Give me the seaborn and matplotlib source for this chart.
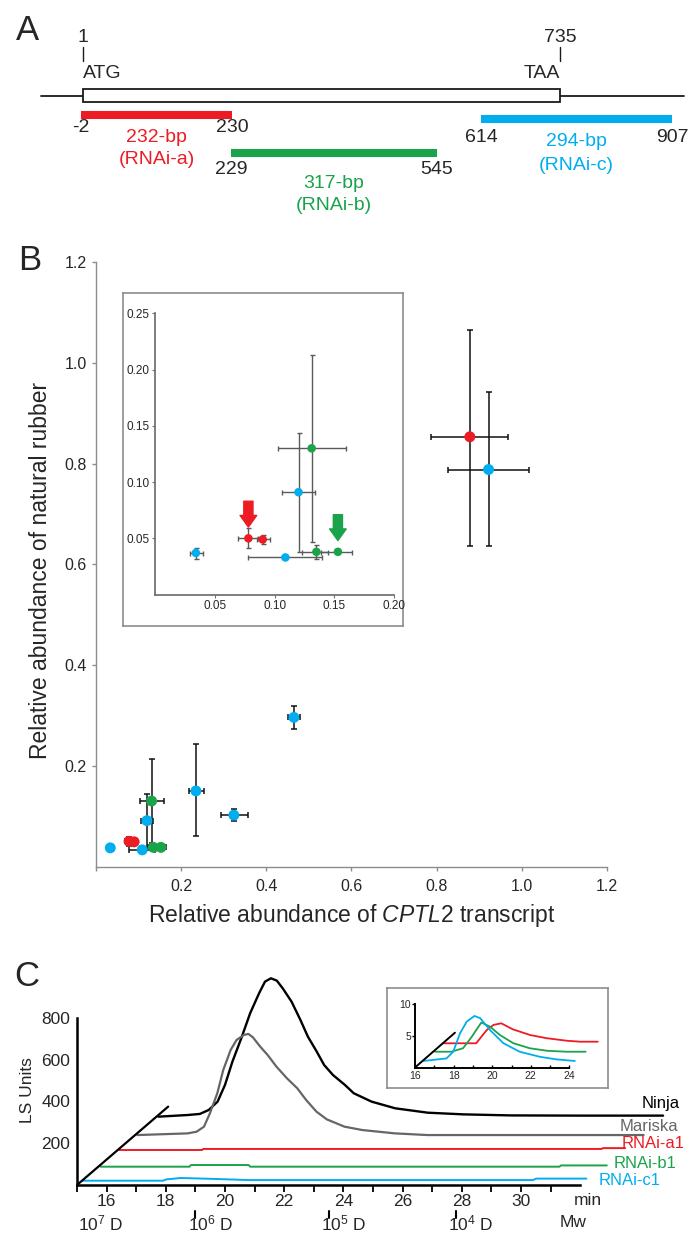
import numpy as np
import pandas as pd
import seaborn as sns
import matplotlib.pyplot as plt
from matplotlib.patches import Rectangle
from matplotlib.ticker import FormatStrFormatter

sns.set_theme(style='white')
plt.rcParams['font.family'] = ['Liberation Sans', 'DejaVu Sans']
plt.rcParams['mathtext.fontset'] = 'custom'
plt.rcParams['mathtext.rm'] = 'Liberation Sans'
plt.rcParams['mathtext.it'] = 'Liberation Sans:italic'

# ---------------- data ----------------
# A: CPTL2 cDNA (coding region 1-735) and the three RNAi fragments, in bp
cds = [1, 735]
flank = [-64, 925]
frag_start = [-2, 229, 614]
frag_end = [230, 545, 907]
frag_size = ['232-bp', '317-bp', '294-bp']
frag_name = ['(RNAi-a)', '(RNAi-b)', '(RNAi-c)']

# B: relative CPTL2 transcript vs relative natural rubber (mean, low, high)
rna_line = ['c', 'a', 'a', 'c', 'c', 'b', 'b', 'b', 'c', 'c', 'c', 'a', 'c']
rna_x = [0.034, 0.078, 0.090, 0.109, 0.120, 0.131, 0.135, 0.153, 0.235, 0.324, 0.465, 0.878, 0.922]
rna_x_lo = [0.029, 0.069, 0.085, 0.078, 0.106, 0.103, 0.123, 0.139, 0.219, 0.293, 0.450, 0.788, 0.826]
rna_x_hi = [0.040, 0.086, 0.096, 0.140, 0.134, 0.160, 0.145, 0.165, 0.254, 0.358, 0.479, 0.967, 1.018]
rub_y = [0.037, 0.050, 0.049, 0.033, 0.091, 0.130, 0.038, 0.038, 0.150, 0.102, 0.296, 0.853, 0.788]
rub_y_lo = [0.032, 0.041, 0.045, 0.033, 0.038, 0.047, 0.032, 0.038, 0.060, 0.091, 0.272, 0.636, 0.636]
rub_y_hi = [0.041, 0.059, 0.053, 0.033, 0.144, 0.213, 0.044, 0.038, 0.243, 0.114, 0.319, 1.065, 0.941]
arrow_idx = [1, 7]

# C: GPC light-scattering traces (min, LS units above each trace's baseline)
ninja_t = [15.0, 16.0, 16.4, 16.7, 17.0, 17.25, 17.5, 17.8, 18.1, 18.4, 18.6, 18.8, 19.0, 19.2,
           19.5, 19.8, 20.05, 20.35, 20.6, 20.9, 21.3, 21.6, 22.2, 23.0, 24.1, 25.3, 26.9, 29.2, 32.05]
ninja_ls = [0, 8, 13, 32, 72, 152, 263, 375, 495, 590, 646, 662, 651, 614,
            550, 462, 383, 311, 247, 199, 152, 112, 72, 40, 19, 11, 6, 5, 5]
mariska_t = [15.0, 16.7, 17.0, 17.25, 17.45, 17.7, 17.9, 18.15, 18.35, 18.6, 18.75, 18.9, 19.15,
             19.4, 19.7, 20.05, 20.4, 20.7, 21.05, 21.4, 22.0, 22.6, 23.7, 24.8, 32.1]
mariska_ls = [0, 8, 16, 40, 104, 200, 311, 407, 455, 479, 484, 468, 423,
              383, 327, 272, 224, 168, 112, 75, 40, 24, 8, 0, 0]
a1_t = [15.0, 17.8, 17.85, 31.3, 31.35, 32.1]
a1_ls = [0, 0, 5, 5, 9, 9]
b1_t = [15.0, 18.0, 18.05, 20.0, 20.05, 30.5, 30.55, 32.1]
b1_ls = [0, 0, 8, 8, 0, 0, 6, 6]
c1_t = [15.0, 17.7, 17.8, 18.3, 19.3, 20.6, 30.2, 30.3, 32.0]
c1_ls = [0, 0, 6, 13, 9, 3, 3, 10, 10]

# C inset: RNAi lines only
ins_a1_t = [16.0, 17.7, 18.25, 18.6, 19.0, 19.6, 20.5, 21.35, 22.4, 23.1, 24.0]
ins_a1_v = [0, 0, 2.1, 2.9, 3.15, 2.2, 1.3, 0.8, 0.4, 0.25, 0.25]
ins_b1_t = [16.0, 16.85, 17.45, 17.9, 18.25, 18.4, 18.85, 19.35, 20.05, 20.9, 21.8, 22.8, 23.8]
ins_b1_v = [0, 0, 0.55, 2.35, 3.95, 4.6, 3.95, 2.65, 1.35, 0.55, 0.15, 0, 0]
ins_c1_t = [16.0, 17.2, 17.55, 17.9, 18.25, 18.65, 18.95, 19.45, 20.15, 21.0, 22.05, 22.9, 23.85]
ins_c1_v = [0, 0.4, 1.45, 4.35, 6.2, 7.1, 6.75, 4.9, 2.8, 1.45, 0.65, 0.25, 0]

# molecular weight markers on the time axis
mw_label = ['10$^7$ D', '10$^6$ D', '10$^5$ D', '10$^4$ D']
mw_time = [15.3, 19.0, 23.5, 27.8]

# ---------------- colours / layout ----------------
RED, GREEN, BLUE = '#ED1C24', '#1BA34B', '#00AEEF'
pal = {'a': RED, 'b': GREEN, 'c': BLUE}
frag_col = [RED, GREEN, BLUE]

W, H = 690, 1235


def rect(l, t, r, b):
    # pixel box (left, top, right, bottom) -> figure fraction
    return [l / W, 1 - b / H, (r - l) / W, (b - t) / H]


fig = plt.figure(figsize=(6.9, 12.35), dpi=100)
for lab, x, y in [('A', 27, 30), ('B', 30, 260), ('C', 27, 977)]:
    fig.text(x / W, 1 - y / H, lab, fontsize=25, ha='center', va='center')

# ---------------- A ----------------
axA = fig.add_axes(rect(0, 0, W, 240))
ppb, x1 = 0.65, 83  # px per bp, pixel of bp 1
axA.set_xlim(1 - x1 / ppb, 1 + (W - x1) / ppb)
axA.set_ylim(240, 0)
axA.axis('off')
axA.plot(flank, [95.7, 95.7], color='#1a1a1a', lw=1.3)
axA.add_patch(Rectangle((cds[0], 88.7), cds[1] - cds[0], 13.6, facecolor='white',
                        edgecolor='#1a1a1a', lw=1.3, zorder=3))
for pos, num, codon, ha in [(cds[0], '1', 'ATG', 'left'), (cds[1], '735', 'TAA', 'right')]:
    axA.plot([pos, pos], [47, 61], color='#1a1a1a', lw=1)
    axA.text(pos, 37, num, ha='center', va='center', fontsize=14)
    axA.text(pos, 73, codon, ha=ha, va='center', fontsize=14)

bar_y = [114.7, 153, 119]
end_y = [128, 170, 137]
size_y = [137, 183, 142]
for i in range(3):
    axA.plot([frag_start[i], frag_end[i]], [bar_y[i]] * 2, color=frag_col[i], lw=5.8,
             solid_capstyle='butt')
    axA.text(frag_start[i], end_y[i], str(frag_start[i]), ha='center', va='center', fontsize=14)
    axA.text(frag_end[i], end_y[i], str(frag_end[i]), ha='center', va='center', fontsize=14)
    mid = (frag_start[i] + frag_end[i]) / 2
    axA.text(mid, size_y[i], frag_size[i], color=frag_col[i], ha='center', va='center', fontsize=14)
    axA.text(mid, size_y[i] + 23, frag_name[i], color=frag_col[i], ha='center', va='center',
             fontsize=14)

# ---------------- B ----------------
dfB = pd.DataFrame(dict(line=rna_line, x=rna_x, xlo=rna_x_lo, xhi=rna_x_hi,
                        y=rub_y, ylo=rub_y_lo, yhi=rub_y_hi))
xerr = [dfB.x - dfB.xlo, dfB.xhi - dfB.x]
yerr = [dfB.y - dfB.ylo, dfB.yhi - dfB.y]

axB = fig.add_axes(rect(95.8, 262, 607, 866.5))
axB.errorbar(dfB.x, dfB.y, xerr=xerr, yerr=yerr, fmt='none', ecolor='#111111',
             elinewidth=1.1, capsize=2.5, capthick=1.1, zorder=2)
sns.scatterplot(data=dfB, x='x', y='y', hue='line', palette=pal, s=62, linewidth=0,
                legend=False, ax=axB, zorder=3)
axB.set_xlim(0, 1.2)
axB.set_ylim(0, 1.2)
sns.despine(ax=axB)
for s in ['left', 'bottom']:
    axB.spines[s].set_color('#8c8c8c')
    axB.spines[s].set_linewidth(1.0)
ticks = np.round(np.arange(0, 1.21, 0.2), 1)
axB.set_xticks(ticks, [f'{v:.1f}' if v else '' for v in ticks])
axB.set_yticks(ticks[1:], [f'{v:.1f}' for v in ticks[1:]])
axB.tick_params(bottom=True, left=True, length=3, width=1, color='#8c8c8c', labelsize=11.5)
axB.tick_params(axis='x', pad=6)
axB.set_xlabel(r'Relative abundance of $\it{CPTL2}$ transcript', fontsize=16.5, labelpad=6)
axB.set_ylabel('Relative abundance of natural rubber', fontsize=16.5)
axB.yaxis.set_label_coords(-0.086, 0.49)

# inset of B
frB = fig.add_axes(rect(123, 293, 403, 626))
frB.set_xticks([])
frB.set_yticks([])
frB.set_facecolor('none')
for s in frB.spines.values():
    s.set_color('#8c8c8c')
    s.set_linewidth(1.2)

insB = fig.add_axes(rect(155.3, 313.3, 394, 594.6))
insB.set_facecolor('none')
insB.errorbar(dfB.x, dfB.y, xerr=xerr, yerr=yerr, fmt='none', ecolor='#5a5a5a',
              elinewidth=1.0, capsize=1.8, capthick=1.0, zorder=2)
sns.scatterplot(data=dfB, x='x', y='y', hue='line', palette=pal, s=38, linewidth=0,
                legend=False, ax=insB, zorder=3)
insB.set_xlim(0, 0.2)
insB.set_ylim(0, 0.25)
sns.despine(ax=insB)
for s in ['left', 'bottom']:
    insB.spines[s].set_color('#6e6e6e')
insB.set_xticks([0.05, 0.10, 0.15, 0.20])
insB.set_yticks([0.05, 0.10, 0.15, 0.20, 0.25])
insB.xaxis.set_major_formatter(FormatStrFormatter('%.2f'))
insB.yaxis.set_major_formatter(FormatStrFormatter('%.2f'))
insB.tick_params(bottom=True, left=True, length=2, width=0.8, color='#6e6e6e', labelsize=8.5, pad=2)
insB.set_xlabel('')
insB.set_ylabel('')
for i in arrow_idx:
    x, y = rna_x[i], rub_y[i]
    insB.annotate('', xy=(x, y + 0.010), xytext=(x, y + 0.033),
                  arrowprops=dict(arrowstyle='simple,head_width=1.0,head_length=0.7,tail_width=0.55',
                                  mutation_scale=12, color=pal[rna_line[i]], shrinkA=0, shrinkB=0))

# ---------------- C ----------------
axC = fig.add_axes(rect(77, 960, W, 1185))
axC.set_xlim(15, 15 + (W - 77) / 29.6)
axC.set_ylim(0, 225 * 4.785)
axC.set_facecolor('none')

# each trace is drawn shifted along the diagonal (pseudo 3D stack)
shift = {'Ninja': (2.75, 327), 'Mariska': (2.04, 239), 'RNAi-a1': (1.42, 167.5),
         'RNAi-b1': (0.80, 87.6), 'RNAi-c1': (0.21, 20.6)}
traces = [('RNAi-c1', c1_t, c1_ls, BLUE, 1.4), ('RNAi-b1', b1_t, b1_ls, GREEN, 1.4),
          ('RNAi-a1', a1_t, a1_ls, RED, 1.4), ('Ninja', ninja_t, ninja_ls, 'black', 1.7),
          ('Mariska', mariska_t, mariska_ls, '#666666', 1.6)]
label_pos = {'Ninja': (34.08, 388), 'Mariska': (33.34, 279), 'RNAi-a1': (33.40, 200),
             'RNAi-b1': (33.12, 104), 'RNAi-c1': (32.61, 21)}
for name, t, v, col, lw in traces:
    dx, dy = shift[name]
    sns.lineplot(x=np.array(t) + dx, y=np.array(v) + dy, color=col, lw=lw, ax=axC,
                 estimator=None, sort=False)
    lx, ly = label_pos[name]
    axC.text(lx, ly, name, color=col, ha='left', va='center', fontsize=12)
axC.plot([15, 18.08], [0, 375], color='black', lw=1.6)

sns.despine(ax=axC)
for s in ['left', 'bottom']:
    axC.spines[s].set_color('black')
    axC.spines[s].set_linewidth(1.8)
axC.spines['left'].set_bounds(0, 800)
axC.spines['bottom'].set_bounds(15, 32)
axC.set_xticks(range(16, 31, 2))
axC.set_xticks(range(15, 32), minor=True)
axC.set_yticks([200, 400, 600, 800])
axC.tick_params(axis='x', which='both', bottom=True, length=5, width=1.3, color='black',
                labelsize=12.5, pad=1.5)
axC.tick_params(axis='y', left=False, length=0, labelsize=12.5, pad=5)
axC.set_xlabel('')
axC.set_ylabel('LS Units', fontsize=12.5)
axC.yaxis.set_label_coords(-0.069, 0.422)

trans = axC.get_xaxis_transform()
axC.text(32.26, -0.067, 'min', transform=trans, ha='center', va='center', fontsize=12.5)
for k, (t, lab) in enumerate(zip(mw_time, mw_label)):
    if k:  # the 10^7 marker has no tick in the original
        axC.plot([t, t], [-0.116, -0.147], transform=trans, color='black', lw=1.5, clip_on=False)
    axC.text(t - 0.25, -0.172, lab, transform=trans, ha='left', va='center', fontsize=12.5)
axC.text(31.77, -0.168, 'Mw', transform=trans, ha='center', va='center', fontsize=12.5)

# inset of C
frC = fig.add_axes(rect(386.7, 988.3, 607.7, 1088.3))
frC.set_xticks([])
frC.set_yticks([])
frC.set_facecolor('none')
for s in frC.spines.values():
    s.set_color('#8c8c8c')
    s.set_linewidth(1.2)

insC = fig.add_axes(rect(415, 1000, 605, 1067.5))
insC.set_facecolor('none')
insC.set_xlim(16, 16 + 190 / 19.3)
insC.set_ylim(0, 67.5 / 6.34)
ins_shift = {'a1': (1.47, 3.82), 'b1': (1.04, 2.49), 'c1': (0.43, 1.03)}
for name, t, v, col in [('a1', ins_a1_t, ins_a1_v, RED), ('b1', ins_b1_t, ins_b1_v, GREEN),
                        ('c1', ins_c1_t, ins_c1_v, BLUE)]:
    dx, dy = ins_shift[name]
    sns.lineplot(x=np.array(t) + dx, y=np.array(v) + dy, color=col, lw=1.3, ax=insC,
                 estimator=None, sort=False)
insC.plot([16, 18.07], [0, 5.49], color='black', lw=1.4)
sns.despine(ax=insC)
for s in ['left', 'bottom']:
    insC.spines[s].set_color('black')
    insC.spines[s].set_linewidth(1.4)
insC.spines['left'].set_bounds(0, 10)
insC.spines['bottom'].set_bounds(16, 24)
insC.set_xticks([16, 18, 20, 22, 24])
insC.set_xticks([17, 19, 21, 23], minor=True)
insC.set_yticks([5, 10])
insC.tick_params(axis='x', which='both', bottom=True, direction='in', length=2, width=1,
                 color='black', labelsize=7.5, pad=2.5)
insC.tick_params(axis='y', left=True, length=2, width=1, color='black', labelsize=7.5, pad=1)
insC.set_xlabel('')
insC.set_ylabel('')

fig.savefig('out.png', dpi=100)
